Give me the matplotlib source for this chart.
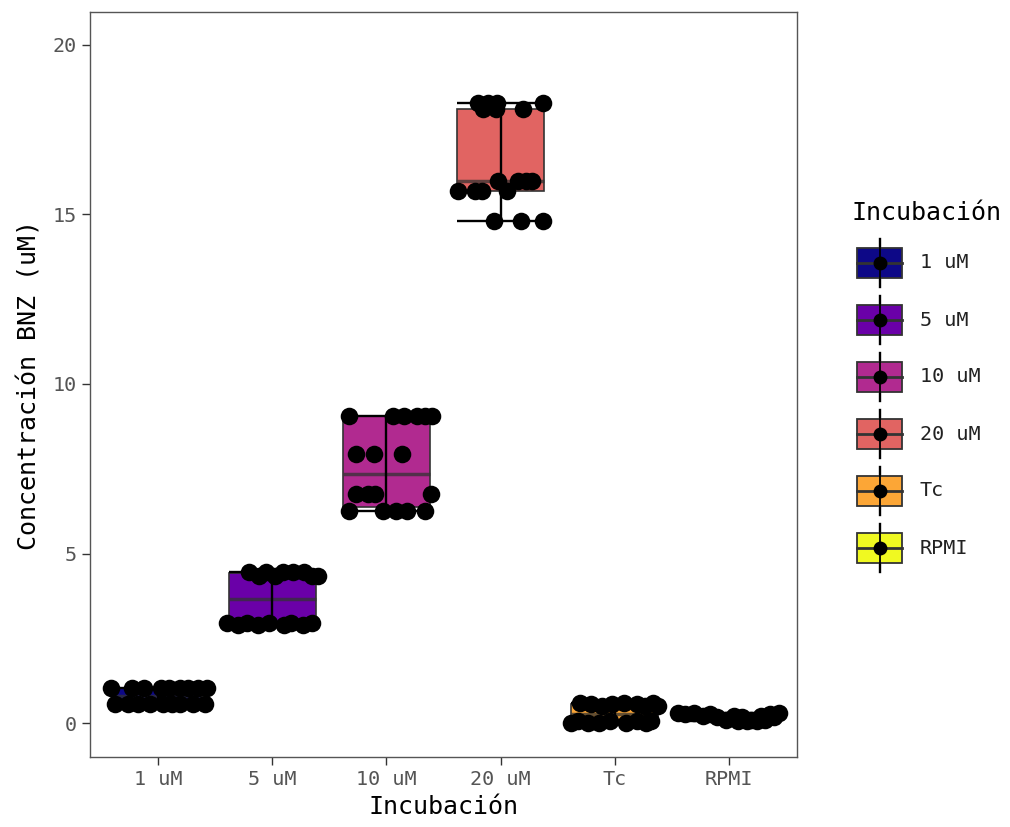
import numpy as np
import matplotlib.pyplot as plt
from matplotlib.patches import Rectangle

plt.rcParams['font.family'] = ['DejaVu Sans Mono']

# categorias y colores (paleta plasma, 6 niveles)
grupos = ["1 uM", "5 uM", "10 uM", "20 uM", "Tc", "RPMI"]
colores = ["#0D0887", "#6A00A8", "#B12A90", "#E16462", "#FCA636", "#F0F921"]

# concentraciones medidas (uM) y desplazamiento horizontal (jitter) de cada punto
conc_1uM = [1.03] * 9 + [0.56] * 9
jit_1uM = [-0.42, -0.23, -0.13, 0.02, 0.09, 0.19, 0.26, 0.35, 0.43,
           -0.38, -0.27, -0.18, -0.07, 0.04, 0.12, 0.19, 0.30, 0.41]

conc_5uM = [4.45] * 5 + [4.35] * 4 + [2.95] * 5 + [2.88] * 4
jit_5uM = [-0.21, -0.06, 0.09, 0.18, 0.28, -0.12, 0.35, 0.40, 0.02,
           -0.40, -0.22, -0.03, 0.16, 0.35, -0.13, 0.10, 0.27, -0.30]

conc_10uM = [9.05] * 6 + [7.95] * 3 + [6.75] * 4 + [6.25] * 5
jit_10uM = [-0.33, 0.06, 0.15, 0.27, 0.34, 0.40,
            -0.27, -0.11, 0.14,
            -0.27, -0.16, -0.10, 0.39,
            -0.33, -0.03, 0.08, 0.18, 0.34]

conc_20uM = [18.3] * 4 + [18.1] * 3 + [16.0] * 4 + [15.7] * 4 + [14.8] * 3
jit_20uM = [-0.20, -0.11, -0.03, 0.37,
            -0.15, -0.04, 0.20,
            -0.02, 0.15, 0.22, 0.28,
            -0.37, -0.22, -0.16, 0.06,
            -0.06, 0.18, 0.37]

conc_Tc = [0.58] * 3 + [0.55] * 3 + [0.50] * 3 + [0.05] * 4 + [0.0] * 5
jit_Tc = [-0.30, 0.08, 0.34, -0.21, 0.20, -0.02, -0.11, 0.27, 0.38,
          -0.32, -0.04, 0.20, 0.32, -0.23, -0.14, 0.10, 0.28, -0.38]

conc_RPMI = [0.30] * 3 + [0.27] * 3 + [0.22] * 3 + [0.18] * 3 + [0.10] * 3 + [0.05] * 3
jit_RPMI = [-0.44, -0.30, 0.44, -0.38, -0.16, 0.36, -0.22, 0.05, 0.28,
            -0.10, 0.12, 0.40, -0.02, 0.20, 0.32, 0.08, 0.16, 0.25]

conc = [conc_1uM, conc_5uM, conc_10uM, conc_20uM, conc_Tc, conc_RPMI]
jit = [jit_1uM, jit_5uM, jit_10uM, jit_20uM, jit_Tc, jit_RPMI]

W, H = 1010, 827
fig = plt.figure(figsize=(W / 100, H / 100), dpi=100)
ax = fig.add_axes([90 / W, 1 - 757 / H, 707 / W, 745 / H])

pos = np.arange(1, len(grupos) + 1)
ancho = 0.76
borde = "#333333"

bp = ax.boxplot(conc, positions=pos, widths=ancho, patch_artist=True,
                showfliers=False, showcaps=False, manage_ticks=False,
                whiskerprops=dict(visible=False),
                boxprops=dict(edgecolor=borde, linewidth=1.2),
                medianprops=dict(color="#333333", linewidth=2.5, alpha=0.75))
for caja, c in zip(bp['boxes'], colores):
    caja.set_facecolor(c)
    caja.set_zorder(2)

# barras de error tipo stat_boxplot(geom = "errorbar")
for p, v in zip(pos, conc):
    v = np.asarray(v)
    q1, q3 = np.percentile(v, [25, 75])
    iqr = q3 - q1
    lo = v[v >= q1 - 1.5 * iqr].min()
    hi = v[v <= q3 + 1.5 * iqr].max()
    ax.vlines(p, lo, hi, color="black", lw=1.7, zorder=3)
    ax.hlines([lo, hi], p - ancho / 2, p + ancho / 2, color="black", lw=1.7, zorder=3)

# puntos
for p, v, j in zip(pos, conc, jit):
    ax.scatter(p + np.asarray(j), v, s=160, color="black", zorder=4, linewidths=0)

ax.set_xlim(0.4, 6.6)
ax.set_ylim(-1.0, 20.97)
ax.set_xticks(pos)
ax.set_xticklabels(grupos)
ax.set_yticks([0, 5, 10, 15, 20])
ax.tick_params(axis='both', colors="#333333", labelcolor="#555555",
               labelsize=14.5, length=6, width=1)
for s in ax.spines.values():
    s.set_color("#555555")
    s.set_linewidth(1)
ax.set_xlabel("Incubación", fontsize=18, labelpad=4)
ax.set_ylabel("Concentración BNZ (uM)", fontsize=18, labelpad=8)

# leyenda dibujada en coordenadas de pixel de la figura
lg = fig.add_axes([0, 0, 1, 1], zorder=5)
lg.set_xlim(0, W)
lg.set_ylim(H, 0)
lg.axis('off')
lg.text(852, 213, "Incubación", fontsize=18, va='center', ha='left')
for i, (g, c) in enumerate(zip(grupos, colores)):
    yc = 263 + i * 57
    xc = 879.5
    lg.plot([xc, xc], [yc - 24, yc + 24], color="black", lw=1.7, zorder=1)
    lg.add_patch(Rectangle((857, yc - 15), 45, 30, facecolor=c,
                           edgecolor=borde, lw=1.3, zorder=2))
    lg.plot([xc, xc], [yc - 15, yc + 15], color="black", lw=1.3, zorder=3)
    lg.plot([857, 902], [yc, yc], color=borde, lw=2, zorder=3)
    lg.scatter([xc], [yc], s=100, color="black", zorder=4, linewidths=0)
    lg.text(920, yc, g, fontsize=14.5, color="#222222", va='center', ha='left')

fig.savefig("out.png", dpi=100)
